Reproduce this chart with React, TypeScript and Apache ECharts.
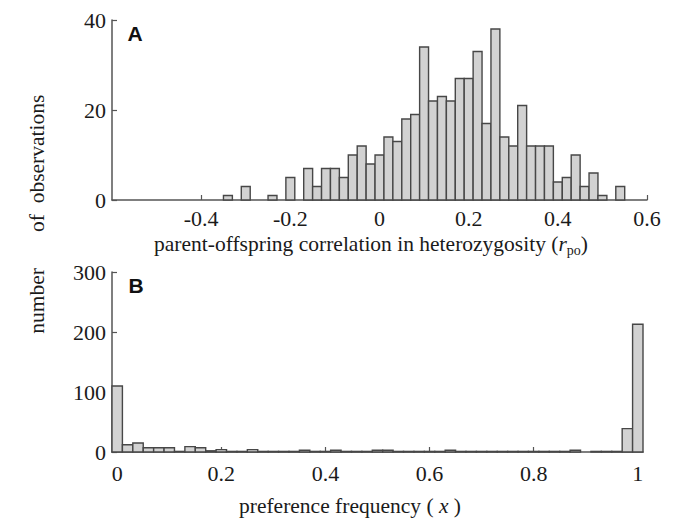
import React, { useEffect, useRef } from 'react';
import * as echarts from 'echarts';

// Panel A: parent-offspring correlation in heterozygosity (bin centres, counts)
const rpoBinCenters = [
  -0.34, -0.32, -0.3, -0.28, -0.26, -0.24, -0.22, -0.2, -0.18, -0.16,
  -0.14, -0.12, -0.1, -0.08, -0.06, -0.04, -0.02, 0, 0.02, 0.04,
  0.06, 0.08, 0.1, 0.12, 0.14, 0.16, 0.18, 0.2, 0.22, 0.24,
  0.26, 0.28, 0.3, 0.32, 0.34, 0.36, 0.38, 0.4, 0.42, 0.44,
  0.46, 0.48, 0.5, 0.52, 0.54,
];
const rpoCounts = [
  1, 0, 3, 0, 0, 1, 0, 5, 0, 7,
  3, 7, 7, 5, 10, 12, 8, 10, 14, 13,
  18, 19, 34, 22, 23, 22, 27, 27, 33, 17,
  38, 14, 12, 21, 12, 12, 12, 4, 5, 10,
  3, 6, 1, 0, 3,
];

// Panel B: preference frequency (bin centres, counts)
const prefBinCenters = [
  0, 0.02, 0.04, 0.06, 0.08, 0.1, 0.12, 0.14, 0.16, 0.18,
  0.2, 0.22, 0.24, 0.26, 0.28, 0.3, 0.32, 0.34, 0.36, 0.38,
  0.4, 0.42, 0.44, 0.46, 0.48, 0.5, 0.52, 0.54, 0.56, 0.58,
  0.6, 0.62, 0.64, 0.66, 0.68, 0.7, 0.72, 0.74, 0.76, 0.78,
  0.8, 0.82, 0.84, 0.86, 0.88, 0.9, 0.92, 0.94, 0.96, 0.98, 1,
];
const prefCounts = [
  110, 12, 15, 7, 7, 7, 1, 9, 7, 2,
  4, 1, 1, 4, 1, 1, 1, 1, 3, 1,
  1, 3, 1, 1, 1, 3, 3, 1, 1, 1,
  1, 1, 3, 1, 1, 1, 1, 1, 1, 1,
  1, 1, 1, 1, 3, 0, 1, 1, 1, 39, 213,
];

const rpoTicks = [-0.4, -0.2, 0, 0.2, 0.4, 0.6];
const prefTicks = [0, 0.2, 0.4, 0.6, 0.8, 1];
const rpoYTicks = [0, 20, 40];
const prefYTicks = [0, 100, 200, 300];
const BIN = 0.02;

const SERIF = '"Liberation Serif", "Times New Roman", serif';
const SANS = '"Liberation Sans", Arial, sans-serif';
const AXIS = '#555555';
const TEXT = '#1a1a1a';

function histItem(_params: any, api: any) {
  const x = api.value(0);
  const y = api.value(1);
  if (!y) return null;
  const a = api.coord([x - BIN / 2, 0]);
  const b = api.coord([x + BIN / 2, y]);
  return {
    type: 'rect',
    shape: { x: a[0], y: b[1], width: b[0] - a[0], height: a[1] - b[1] },
    style: { fill: '#d2d2d2', stroke: '#474747', lineWidth: 1.4 },
  };
}

const fmt = (v: number) => String(Math.round(v * 10) / 10);

function xAxisBase(min: number, max: number, ticks: number[], grid: number, margin: number) {
  return {
    type: 'value',
    gridIndex: grid,
    min,
    max,
    axisLine: { show: true, onZero: false, lineStyle: { color: AXIS, width: 1.5 } },
    axisTick: { show: true, inside: true, length: 5, customValues: ticks, lineStyle: { color: AXIS, width: 1.2 } },
    axisLabel: {
      show: true,
      customValues: ticks,
      formatter: (v: number) => fmt(v),
      fontFamily: SERIF,
      fontSize: 22,
      color: TEXT,
      margin,
    },
    splitLine: { show: false },
  };
}

function yAxisBase(max: number, interval: number, ticks: number[], grid: number) {
  return {
    type: 'value',
    gridIndex: grid,
    min: 0,
    max,
    interval,
    axisLine: { show: true, onZero: false, lineStyle: { color: AXIS, width: 1.5 } },
    axisTick: { show: true, inside: true, length: 5, customValues: ticks, lineStyle: { color: AXIS, width: 1.2 } },
    axisLabel: {
      show: true,
      customValues: ticks,
      fontFamily: SERIF,
      fontSize: 22,
      color: TEXT,
      margin: 6,
      showMinLabel: true,
      showMaxLabel: true,
    },
    splitLine: { show: false },
  };
}

export default function App() {
  const ref = useRef<HTMLDivElement>(null);

  useEffect(() => {
    if (!ref.current) return;
    const chart = echarts.init(ref.current, undefined, { renderer: 'svg' });
    const option: any = {
      animation: false,
      backgroundColor: '#ffffff',
      grid: [
        { left: 112, top: 20, width: 535, height: 180 },
        { left: 112, top: 272, width: 531, height: 180 },
      ],
      xAxis: [
        xAxisBase(-0.6, 0.6, rpoTicks, 0, 7),
        xAxisBase(-0.01, 1.01, prefTicks, 1, 10),
      ],
      yAxis: [yAxisBase(40, 20, rpoYTicks, 0), yAxisBase(300, 100, prefYTicks, 1)],
      series: [
        {
          type: 'custom',
          xAxisIndex: 0,
          yAxisIndex: 0,
          renderItem: histItem,
          data: rpoBinCenters.map((c, i) => [c, rpoCounts[i]]),
          encode: { x: 0, y: 1 },
        },
        {
          type: 'custom',
          xAxisIndex: 1,
          yAxisIndex: 1,
          renderItem: histItem,
          data: prefBinCenters.map((c, i) => [c, prefCounts[i]]),
          encode: { x: 0, y: 1 },
        },
      ],
      graphic: [
        {
          type: 'text',
          x: 135,
          y: 33,
          style: { text: 'A', fontFamily: SANS, fontWeight: 'bold', fontSize: 21, fill: '#111', align: 'center', verticalAlign: 'middle' },
        },
        {
          type: 'text',
          x: 136,
          y: 285,
          style: { text: 'B', fontFamily: SANS, fontWeight: 'bold', fontSize: 21, fill: '#111', align: 'center', verticalAlign: 'middle' },
        },
        {
          type: 'text',
          x: 371,
          y: 244,
          style: {
            text: 'parent-offspring correlation in heterozygosity ({i|r}{s|po})',
            fontFamily: SERIF,
            fontSize: 21.5,
            lineHeight: 26,
            fill: TEXT,
            align: 'center',
            verticalAlign: 'middle',
            rich: {
              i: { fontFamily: SERIF, fontSize: 21.5, fontStyle: 'italic', fill: TEXT },
              s: { fontFamily: SERIF, fontSize: 14, lineHeight: 14, verticalAlign: 'bottom', fill: TEXT },
            },
          },
        },
        {
          type: 'text',
          x: 350,
          y: 506,
          style: {
            text: 'preference frequency ( {i|x} )',
            fontFamily: SERIF,
            fontSize: 21.5,
            fill: TEXT,
            align: 'center',
            verticalAlign: 'middle',
            rich: { i: { fontFamily: SERIF, fontSize: 21.5, fontStyle: 'italic', fill: TEXT } },
          },
        },
        {
          type: 'text',
          x: 37,
          y: 149,
          rotation: Math.PI / 2,
          style: { text: 'observations', fontFamily: SERIF, fontSize: 21.5, fill: TEXT, align: 'center', verticalAlign: 'middle' },
        },
        {
          type: 'text',
          x: 37,
          y: 223,
          rotation: Math.PI / 2,
          style: { text: 'of', fontFamily: SERIF, fontSize: 21.5, fill: TEXT, align: 'center', verticalAlign: 'middle' },
        },
        {
          type: 'text',
          x: 37,
          y: 301,
          rotation: Math.PI / 2,
          style: { text: 'number', fontFamily: SERIF, fontSize: 21.5, fill: TEXT, align: 'center', verticalAlign: 'middle' },
        },
      ],
    };
    chart.setOption(option);
    return () => chart.dispose();
  }, []);

  return (
    <div
      ref={ref}
      style={{ position: 'fixed', left: 0, top: 0, width: 674, height: 518, background: '#fff' }}
    />
  );
}
